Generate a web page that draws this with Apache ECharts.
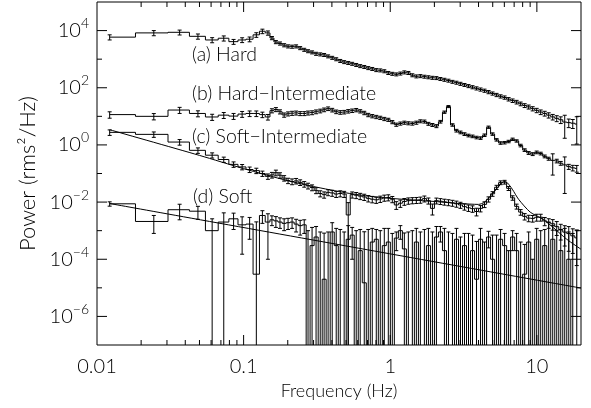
<!DOCTYPE html>
<html>
<head>
<meta charset="utf-8">
<script src="https://cdn.jsdelivr.net/npm/echarts/dist/echarts.min.js"></script>
<style>
  html, body { margin: 0; padding: 0; background: #fff; }
  #chart { width: 591px; height: 408px; }
</style>
</head>
<body>
<div id="chart"></div>
<script>
// Frequency bins (Hz): single Fourier bins below 0.15 Hz, logarithmic rebinning above.
const freq = [0.0122, 0.0244, 0.0366, 0.0488, 0.0610, 0.0732, 0.0854, 0.0977, 0.1099, 0.1221, 0.1343, 0.1465,
  0.156, 0.166, 0.177, 0.189, 0.201, 0.214, 0.228, 0.243, 0.259, 0.275,
  0.293, 0.312, 0.333, 0.354, 0.377, 0.402, 0.428, 0.456, 0.485, 0.517,
  0.550, 0.586, 0.624, 0.665, 0.708, 0.754, 0.803, 0.855, 0.911, 0.970,
  1.033, 1.100, 1.172, 1.248, 1.329, 1.415, 1.507, 1.605, 1.710, 1.821,
  1.939, 2.065, 2.199, 2.342, 2.495, 2.657, 2.829, 3.013, 3.209, 3.418,
  3.640, 3.877, 4.129, 4.397, 4.683, 4.987, 5.311, 5.657, 6.024, 6.416,
  6.833, 7.277, 7.750, 8.254, 8.791, 9.362, 9.971, 10.62, 11.31, 12.04,
  12.83, 13.66, 14.55, 15.49, 16.50, 17.57, 18.71];

// (a) Hard state
const powerHard = [5900, 8300, 8700, 6300, 4700, 5400, 4100, 4700, 5000, 7100, 9500, 8300,
  5500, 3980, 3550, 3090, 2820, 2750, 2820, 2450, 2140, 1910,
  1740, 1550, 1480, 1410, 1260, 1120, 1000, 871, 794, 741,
  692, 631, 575, 537, 490, 457, 417, 407, 380, 331,
  309, 295, 316, 347, 331, 275, 251, 257, 245, 234,
  224, 219, 204, 191, 178, 162, 151, 138, 126, 115,
  105, 95.5, 87.1, 79.4, 70.8, 63.1, 56.2, 50.1, 45.7, 39.8,
  35.5, 31.6, 27.5, 24.0, 21.4, 18.6, 16.2, 14.1, 12.6, 11.0,
  9.55, 8.51, 7.59, 6.31, 6.03, 5.75, 5.37];
const errHard = [1200, 1700, 1700, 1300, 950, 1100, 800, 900, 950, 1300, 1700, 1400,
  700, 500, 450, 390, 350, 340, 350, 300, 260, 230,
  210, 190, 180, 170, 150, 135, 120, 105, 95, 89,
  83, 76, 69, 64, 59, 55, 50, 49, 46, 40,
  37, 35, 38, 42, 40, 33, 30, 31, 29, 28,
  27, 26, 24, 23, 21, 19, 18, 17, 15, 14,
  13, 12, 11, 10, 9, 8, 7.3, 6.5, 6.0, 5.4,
  5.0, 4.6, 4.1, 3.7, 3.4, 3.1, 2.8, 2.6, 2.4, 2.3,
  2.1, 2.0, 2.0, 4.6, 2.0, 2.0, 4.3];

// (b) Hard-Intermediate state
const powerHardInt = [11.5, 10.0, 16.6, 12.6, 9.5, 11.0, 10.2, 12.0, 12.6, 12.6, 11.5, 9.5,
  15.8, 17.4, 14.5, 11.2, 12.3, 12.9, 13.2, 12.6, 12.6, 13.2,
  13.5, 14.5, 15.5, 17.0, 18.6, 16.6, 14.5, 13.8, 14.1, 15.1,
  15.8, 16.6, 15.1, 13.2, 11.2, 10.2, 9.55, 8.91, 8.13, 7.59,
  6.31, 5.13, 5.62, 6.03, 5.75, 5.62, 6.03, 6.76, 6.61, 5.50,
  5.01, 4.57, 6.5, 14.0, 22.0, 5.0, 3.16, 2.75, 2.40, 2.14,
  2.00, 1.82, 1.74, 2.19, 4.17, 2.40, 1.51, 1.17, 1.20, 1.32,
  1.58, 1.38, 0.955, 0.661, 0.525, 0.479, 0.550, 0.501, 0.398, 0.331,
  0.288, 0.275, 0.229, 0.200, 0.174, 0.158, 0.151];
const errHardInt = [2.9, 2.5, 4.0, 3.0, 2.3, 2.6, 2.4, 2.8, 2.8, 2.8, 2.5, 2.1,
  2.6, 2.8, 2.4, 1.9, 2.0, 2.1, 2.1, 2.0, 2.0, 2.1,
  2.1, 2.2, 2.3, 2.5, 2.7, 2.4, 2.1, 2.0, 2.0, 2.1,
  2.2, 2.2, 2.0, 1.8, 1.5, 1.35, 1.25, 1.15, 1.05, 0.95,
  0.8, 0.65, 0.7, 0.75, 0.7, 0.7, 0.75, 0.8, 0.8, 0.65,
  0.6, 0.55, 0.7, 1.3, 1.8, 0.5, 0.34, 0.3, 0.26, 0.23,
  0.21, 0.19, 0.18, 0.22, 0.38, 0.24, 0.15, 0.12, 0.12, 0.13,
  0.15, 0.13, 0.1, 0.07, 0.06, 0.055, 0.06, 0.055, 0.045, 0.04,
  0.2, 0.04, 0.035, 0.18, 0.035, 0.035, 0.04];

// (c) Soft-Intermediate state
const powerSoftInt = [2.75, 2.34, 1.26, 0.646, 0.437, 0.309, 0.209, 0.170, 0.138, 0.126, 0.100, 0.0794,
  0.0891, 0.107, 0.0871, 0.0692, 0.0562, 0.0525, 0.0550, 0.0490, 0.0427, 0.0372,
  0.0324, 0.0257, 0.0200, 0.0182, 0.0219, 0.0209, 0.0191, 0.0200, 0.0191, 0.00355,
  0.0182, 0.0174, 0.0162, 0.0151, 0.0135, 0.0126, 0.0120, 0.0129, 0.0141, 0.0145,
  0.0126, 0.00794, 0.00912, 0.0105, 0.0112, 0.0115, 0.0117, 0.0120, 0.0132, 0.0112,
  0.00603, 0.0112, 0.0107, 0.0102, 0.00977, 0.00933, 0.00871, 0.00794, 0.00692, 0.00631,
  0.00589, 0.00468, 0.00603, 0.00832, 0.0126, 0.0195, 0.0331, 0.0479, 0.0501, 0.0302,
  0.0141, 0.00708, 0.00447, 0.00316, 0.00275, 0.00269, 0.00295, 0.00295, 0.00219, 0.00191,
  0.00174, 0.00138, 0.00107, 0.00089, 0.00079, 0.00066, 0.00056];
const errSoftInt = [0.6, 0.5, 0.28, 0.14, 0.09, 0.065, 0.045, 0.036, 0.03, 0.027, 0.021, 0.017,
  0.02, 0.024, 0.019, 0.015, 0.012, 0.012, 0.012, 0.011, 0.0095, 0.0085,
  0.0075, 0.006, 0.0048, 0.0045, 0.0052, 0.005, 0.0046, 0.0048, 0.0046, 0.006,
  0.0044, 0.0042, 0.004, 0.0037, 0.0034, 0.0032, 0.003, 0.0032, 0.0034, 0.0035,
  0.0031, 0.0024, 0.0026, 0.0028, 0.0028, 0.0028, 0.0028, 0.0029, 0.0031, 0.0027,
  0.0025, 0.0026, 0.0025, 0.0024, 0.0023, 0.0022, 0.0021, 0.0019, 0.0017, 0.0016,
  0.0015, 0.0014, 0.0015, 0.0019, 0.0026, 0.0036, 0.0055, 0.0072, 0.0075, 0.0048,
  0.0025, 0.0014, 0.001, 0.0008, 0.0007, 0.0007, 0.0008, 0.0008, 0.0007, 0.0007,
  0.0007, 0.0007, 0.0006, 0.0006, 0.0006, 0.0005, 0.0005];

// (d) Soft state (noise-subtracted, so some bins are negative)
const powerSoft = [8.7e-3, 2.1e-3, 5.4e-3, 4.8e-3, 1.0e-3, 2.0e-3, 2.6e-3, 1.6e-3, 1.7e-3, 3e-5, 3.4e-3, 2.0e-3,
  2.4e-3, 2.2e-3, 2.0e-3, 1.8e-3, 1.9e-3, 2.0e-3, 1.7e-3, 1.5e-3, 1.6e-3, -4e-4,
  3e-4, 6e-4, -2e-4, 2e-5, -3e-4, 9e-4, 3e-4, -2e-4, -3e-4, 5e-4,
  7e-4, -2e-4, 2e-4, 1.5e-5, -3e-4, 4e-4, 5e-4, -2e-4, 3e-4, 4e-4,
  -1e-4, 5.5e-4, 1.0e-3, 2.3e-4, -2e-4, -3e-4, 4e-4, -1e-4, -2e-4, 3e-4,
  -2e-4, 6e-4, 9e-4, 2e-4, -3e-4, -2e-4, 5e-4, -1e-4, 3e-4, -2e-4,
  2e-4, 2e-5, 5e-4, -3e-4, 6e-4, 1e-4, -2e-4, 5e-4, 3e-4, -3e-4,
  6e-4, 2e-4, -2e-4, 3e-5, 4e-4, -4e-4, 5e-4, -2e-4, 3e-4, -3e-4,
  5e-4, -5e-4, 2e-4, -3e-4, 1e-4, -4e-4, -3e-4];
const errSoft = [1.5e-3, 1.3e-3, 3.0e-3, 2.3e-3, 1.6e-3, 2.2e-3, 1.5e-3, 1.45e-3, 1.2e-3, 2.0e-3, 1.6e-3, 1.9e-3,
  9e-4, 9e-4, 8e-4, 8e-4, 8e-4, 8e-4, 8e-4, 8e-4, 8e-4, 1.4e-3,
  1.0e-3, 8e-4, 1.1e-3, 8e-4, 1.2e-3, 1.0e-3, 9e-4, 1.3e-3, 1.2e-3, 1.0e-3,
  6e-4, 1.2e-3, 9e-4, 9e-4, 1.4e-3, 8e-4, 6e-4, 1.2e-3, 9e-4, 8e-4,
  9e-4, 3.5e-4, 5e-4, 6e-4, 1.1e-3, 1.3e-3, 8e-4, 1.0e-3, 1.3e-3, 9e-4,
  1.1e-3, 8e-4, 5e-4, 1.0e-3, 1.2e-3, 1.0e-3, 7e-4, 7e-4, 5e-4, 1.0e-3,
  5e-4, 4e-4, 7e-4, 7e-4, 3.5e-4, 6e-4, 9e-4, 6e-4, 5e-4, 5e-4,
  4e-4, 6e-4, 6e-4, 3e-4, 5e-4, 5e-4, 7e-4, 1.2e-3, 8e-4, 2.3e-3,
  1.0e-3, 1.5e-3, 9e-4, 1.5e-3, 8e-4, 1.2e-3, 1.3e-3];

// Best-fit model for (c): broken continuum plus QPO
const modelSoftIntFreq = [0.0122, 0.05, 0.1, 0.2, 0.3, 0.5, 0.8, 1.2, 2.0, 3.0, 4.0, 4.4, 5.0, 5.5, 5.8, 6.0, 6.3, 6.8, 7.5, 9.0, 11, 13, 16, 20];
const modelSoftIntPower = [3.4, 0.43, 0.148, 0.056, 0.035, 0.021, 0.015, 0.0126, 0.0105, 0.0089, 0.0083, 0.010, 0.020, 0.0355, 0.0479, 0.0525, 0.0468, 0.0282, 0.0126, 0.00447, 0.00251, 0.00126, 0.0005, 0.000224];

// Power-law model for (d)
const modelSoftFreq = [0.0122, 20];
const modelSoftPower = [8.9e-3, 9.8e-6];

// Axis ticks and labels
const xLabelValues = [0.01, 0.1, 1, 10];
const xLabelTexts = ['0.01', '0.1', '1', '10'];
const yLabelExponents = [-6, -4, -2, 0, 2, 4];
const xMajorTicks = [0.1, 1, 10];
const xMinorTicks = [0.02, 0.03, 0.04, 0.05, 0.06, 0.07, 0.08, 0.09,
  0.2, 0.3, 0.4, 0.5, 0.6, 0.7, 0.8, 0.9, 2, 3, 4, 5, 6, 7, 8, 9];
const yMajorTicks = [1e-6, 1e-4, 1e-2, 1, 1e2, 1e4];
const yMinorTicks = [1e-5, 1e-3, 1e-1, 10, 1e3];

const stateLabels = ['(a) Hard', '(b) Hard\u2212Intermediate', '(c) Soft\u2212Intermediate', '(d) Soft'];

const INK = '#000';
const LINE = { stroke: INK, lineWidth: 1, fill: 'none' };
const CAP = 2;

function spectrumSeries(power, err) {
  return {
    type: 'custom',
    coordinateSystem: 'cartesian2d',
    clip: true,
    silent: true,
    z: 4,
    data: freq.map((f, i) => [f, power[i] + err[i]]),
    renderItem(params, api) {
      const i = params.dataIndex;
      const cs = params.coordSys;
      const floorY = cs.y + cs.height + 2;
      const xOf = f => api.coord([f, 1])[0];
      const yOf = v => (v > 0 ? Math.min(api.coord([1, v])[1], floorY) : floorY);
      const xc = xOf(freq[i]);
      const xL = i > 0 ? xOf((freq[i - 1] + freq[i]) / 2) : xc;
      const xR = i < freq.length - 1 ? xOf((freq[i] + freq[i + 1]) / 2) : xc;
      const y = yOf(power[i]);
      const pts = [];
      if (i > 0) pts.push([xL, yOf(power[i - 1])]);
      pts.push([xL, y], [xR, y]);
      const lo = power[i] - err[i];
      const hi = power[i] + err[i];
      const yHi = yOf(hi);
      const yLo = yOf(lo);
      const children = [
        { type: 'polyline', shape: { points: pts }, style: LINE },
        { type: 'line', shape: { x1: xc, y1: yHi, x2: xc, y2: yLo }, style: LINE },
        { type: 'line', shape: { x1: xc - CAP, y1: yHi, x2: xc + CAP, y2: yHi }, style: LINE }
      ];
      if (lo > 0) {
        children.push({ type: 'line', shape: { x1: xc - CAP, y1: yLo, x2: xc + CAP, y2: yLo }, style: LINE });
      }
      return { type: 'group', children };
    }
  };
}

function modelSeries(fs, ps) {
  return {
    type: 'line',
    data: fs.map((f, i) => [f, ps[i]]),
    symbol: 'none',
    smooth: 0.25,
    silent: true,
    clip: true,
    z: 3,
    lineStyle: { color: INK, width: 1 }
  };
}

function xTickSeries(values, len) {
  return {
    type: 'custom', coordinateSystem: 'cartesian2d', silent: true, clip: false, z: 6,
    data: values.map(v => [v, 1]),
    renderItem(params, api) {
      const cs = params.coordSys;
      const x = api.coord([api.value(0), 1])[0];
      const b = cs.y + cs.height, t = cs.y;
      return { type: 'group', children: [
        { type: 'line', shape: { x1: x, y1: b, x2: x, y2: b - len }, style: LINE },
        { type: 'line', shape: { x1: x, y1: t, x2: x, y2: t + len }, style: LINE }
      ] };
    }
  };
}

function yTickSeries(values, len) {
  return {
    type: 'custom', coordinateSystem: 'cartesian2d', silent: true, clip: false, z: 6,
    data: values.map(v => [1, v]),
    renderItem(params, api) {
      const cs = params.coordSys;
      const y = api.coord([1, api.value(1)])[1];
      const l = cs.x, r = cs.x + cs.width;
      return { type: 'group', children: [
        { type: 'line', shape: { x1: l, y1: y, x2: l + len, y2: y }, style: LINE },
        { type: 'line', shape: { x1: r, y1: y, x2: r - len, y2: y }, style: LINE }
      ] };
    }
  };
}

function isPow10(v, n) {
  return Math.abs(Math.log10(v) - n) < 1e-6;
}

const FONT = 'Lato, "DejaVu Sans", sans-serif';
const FW = 300;

const chart = echarts.init(document.getElementById('chart'), null, { renderer: 'canvas' });

chart.setOption({
  animation: false,
  backgroundColor: '#fff',
  grid: { left: 97, right: 10, top: 2, bottom: 63, show: true, borderColor: INK, borderWidth: 1, backgroundColor: 'transparent' },
  xAxis: {
    type: 'log', logBase: 10, min: 0.01, max: 20, interval: 1,
    name: 'Frequency (Hz)', nameLocation: 'middle', nameGap: 30,
    nameTextStyle: { fontFamily: FONT, fontWeight: FW, fontSize: 18, color: INK },
    axisLine: { show: false }, axisTick: { show: false }, splitLine: { show: false }, minorTick: { show: false },
    axisLabel: {
      margin: 12, fontFamily: FONT, fontWeight: FW, fontSize: 20, color: INK,
      formatter: v => {
        const k = xLabelValues.findIndex(t => isPow10(v, Math.log10(t)));
        return k >= 0 ? xLabelTexts[k] : '';
      }
    }
  },
  yAxis: {
    type: 'log', logBase: 10, min: 1e-7, max: 1e5, interval: 1,
    name: 'Power (rms\u00b2/Hz)', nameLocation: 'middle', nameGap: 57, nameRotate: 90,
    nameTextStyle: { fontFamily: FONT, fontWeight: FW, fontSize: 22, color: INK },
    axisLine: { show: false }, axisTick: { show: false }, splitLine: { show: false }, minorTick: { show: false },
    axisLabel: {
      margin: 8, color: INK,
      formatter: v => {
        const n = Math.round(Math.log10(v));
        if (!isPow10(v, n) || yLabelExponents.indexOf(n) < 0) return '';
        return '{b|10}{s|' + (n < 0 ? '\u2212' + (-n) : String(n)) + '}';
      },
      rich: {
        b: { fontFamily: FONT, fontWeight: FW, fontSize: 20, lineHeight: 28, color: INK },
        s: { fontFamily: FONT, fontWeight: FW, fontSize: 14, lineHeight: 14, verticalAlign: 'top', color: INK }
      }
    }
  },
  graphic: [
    { type: 'text', x: 192, y: 55, style: { text: stateLabels[0], fontFamily: FONT, fontWeight: FW, fontSize: 19.5, fill: INK, verticalAlign: 'middle' } },
    { type: 'text', x: 192, y: 94, style: { text: stateLabels[1], fontFamily: FONT, fontWeight: FW, fontSize: 19.5, fill: INK, verticalAlign: 'middle' } },
    { type: 'text', x: 192, y: 137, style: { text: stateLabels[2], fontFamily: FONT, fontWeight: FW, fontSize: 19.5, fill: INK, verticalAlign: 'middle' } },
    { type: 'text', x: 193, y: 197, style: { text: stateLabels[3], fontFamily: FONT, fontWeight: FW, fontSize: 19.5, fill: INK, verticalAlign: 'middle' } }
  ],
  series: [
    spectrumSeries(powerHard, errHard),
    spectrumSeries(powerHardInt, errHardInt),
    spectrumSeries(powerSoftInt, errSoftInt),
    spectrumSeries(powerSoft, errSoft),
    modelSeries(modelSoftIntFreq, modelSoftIntPower),
    modelSeries(modelSoftFreq, modelSoftPower),
    xTickSeries(xMajorTicks, 10),
    xTickSeries(xMinorTicks, 5),
    yTickSeries(yMajorTicks, 10),
    yTickSeries(yMinorTicks, 5)
  ]
});
</script>
</body>
</html>
